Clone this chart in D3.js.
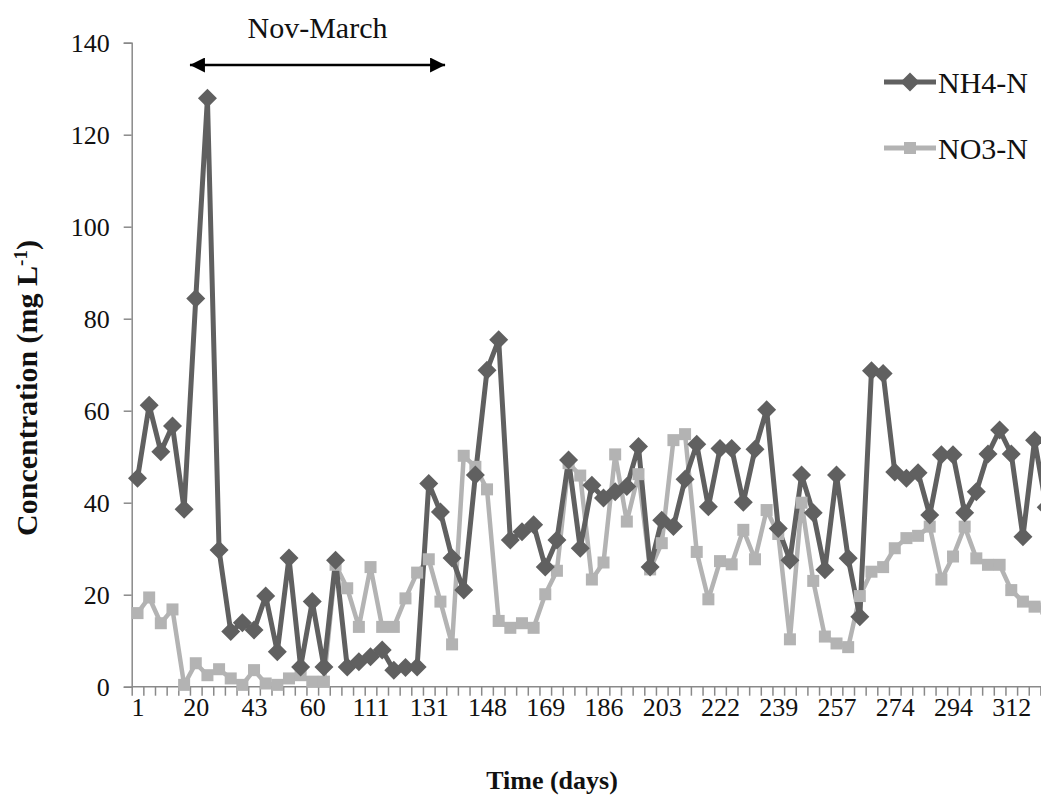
<!DOCTYPE html>
<html>
<head>
<meta charset="utf-8">
<script src="https://cdn.jsdelivr.net/npm/d3@7"></script>
<style>
  html, body { margin: 0; padding: 0; background: #fff; }
  svg { display: block; }
</style>
</head>
<body>
<svg id="chart" width="1041" height="795"></svg>
<script>
// Sampling days shown on the time axis (one label every five samples)
const dayLabels = [1, 20, 43, 60, 111, 131, 148, 169, 186, 203, 222, 239, 257, 274, 294, 312];
const labelEvery = 5;

// Ammonium nitrogen, mg/L, one value per sample
const nh4 = [45.3, 61.2, 51.1, 56.7, 38.6, 84.4, 127.9, 29.7, 12.0, 13.9,
             12.3, 19.7, 7.6, 28.0, 4.3, 18.5, 4.3, 27.5, 4.3, 5.4,
             6.5, 8.0, 3.6, 4.2, 4.3, 44.2, 38.0, 28.0, 21.0, 46.0,
             68.8, 75.4, 31.9, 33.7, 35.2, 26.0, 31.9, 49.3, 30.1, 43.8,
             41.0, 42.4, 43.5, 52.2, 26.0, 36.2, 34.8, 45.1, 52.7, 39.1,
             51.8, 51.8, 40.1, 51.6, 60.2, 34.4, 27.5, 46.0, 37.8, 25.4,
             46.0, 27.9, 15.2, 68.7, 68.1, 46.7, 45.3, 46.5, 37.3, 50.4,
             50.4, 37.8, 42.4, 50.6, 55.8, 50.6, 32.6, 53.6, 39.0];

// Nitrate nitrogen, mg/L
const no3 = [16.0, 19.4, 13.8, 16.8, 0.4, 5.1, 2.5, 3.8, 1.8, 0.4,
             3.6, 0.7, 0.4, 1.8, 2.5, 1.1, 1.1, 26.5, 21.4, 13.0,
             26.0, 13.0, 13.0, 19.2, 24.8, 27.7, 18.5, 9.2, 50.2, 47.8,
             42.9, 14.3, 12.8, 13.8, 12.8, 20.1, 25.2, 48.6, 45.9, 23.3,
             27.0, 50.5, 35.9, 46.2, 25.5, 31.2, 53.6, 54.9, 29.3, 19.0,
             27.3, 26.6, 34.1, 27.7, 38.4, 33.2, 10.3, 40.0, 23.0, 10.9,
             9.4, 8.6, 19.7, 25.0, 26.0, 30.1, 32.3, 32.8, 34.8, 23.3,
             28.3, 34.8, 27.9, 26.5, 26.5, 21.0, 18.5, 17.4, 17.0];

const yTicks = [0, 20, 40, 60, 80, 100, 120, 140];
const seriesNames = ["NH4-N", "NO3-N"];

// Winter period marked above the plot, in sample positions
const winterSpan = [5.0, 26.9];
const winterLabel = "Nov-March";

const svg = d3.select("#chart");
const font = '"Liberation Serif", "Times New Roman", serif';
const axisColor = "#8a8a8a";
const nh4Color = "#606060";
const no3Color = "#b3b3b3";

const nCats = nh4.length;
const step = 11.65;
const x0 = 131.7;
const yBottom = 686.7, yTop = 42.7;

// Sample boundaries (ticks) and centres (points)
const x = d3.scaleLinear().domain([0, nCats]).range([x0, x0 + nCats * step]);
const y = d3.scaleLinear().domain([0, 140]).range([yBottom, yTop]);
const cx = i => x(i + 0.5);

// Y axis
const yAxis = svg.append("g")
  .attr("transform", `translate(${x0},0)`)
  .call(d3.axisLeft(y).tickValues(yTicks).tickSize(8).tickPadding(14));
yAxis.select(".domain").attr("stroke", axisColor).attr("stroke-width", 1.5);
yAxis.selectAll(".tick line").attr("stroke", axisColor).attr("stroke-width", 1.5);
yAxis.selectAll(".tick text")
  .attr("font-family", font).attr("font-size", 26).attr("fill", "#111");

// X axis: a tick at every sample boundary
const xAxis = svg.append("g")
  .attr("transform", `translate(0,${yBottom})`)
  .call(d3.axisBottom(x).tickValues(d3.range(0, nCats + 1)).tickSize(9).tickFormat(""));
xAxis.select(".domain").attr("stroke", axisColor).attr("stroke-width", 1.5)
  .attr("d", `M${x0},0H${x(nCats)}`);
xAxis.selectAll(".tick line").attr("stroke", axisColor).attr("stroke-width", 1.5);

// X labels at every fifth sample centre
const labelPos = dayLabels.map((d, i) => i * labelEvery + 0.5);
const xLab = svg.append("g")
  .attr("transform", `translate(0,${yBottom})`)
  .call(d3.axisBottom(x).tickValues(labelPos).tickSize(0).tickPadding(11)
    .tickFormat((d, i) => dayLabels[i]));
xLab.select(".domain").remove();
xLab.selectAll(".tick text")
  .attr("font-family", font).attr("font-size", 26).attr("fill", "#111");

// Series lines and markers
const line = d3.line().x((d, i) => cx(i)).y(d => y(d));

svg.append("path").datum(no3)
  .attr("d", line).attr("fill", "none")
  .attr("stroke", no3Color).attr("stroke-width", 4.5).attr("stroke-linejoin", "round");
svg.append("path").datum(nh4)
  .attr("d", line).attr("fill", "none")
  .attr("stroke", nh4Color).attr("stroke-width", 5).attr("stroke-linejoin", "round");

const sq = 12;
svg.append("g").selectAll("rect").data(no3).join("rect")
  .attr("x", (d, i) => cx(i) - sq / 2).attr("y", d => y(d) - sq / 2)
  .attr("width", sq).attr("height", sq).attr("fill", no3Color);

const dia = 9.5;
const diamond = (px, py) => `M${px},${py - dia}L${px + dia},${py}L${px},${py + dia}L${px - dia},${py}Z`;
svg.append("g").selectAll("path").data(nh4).join("path")
  .attr("d", (d, i) => diamond(cx(i), y(d))).attr("fill", nh4Color);

// Legend
const legend = svg.append("g");
const legRows = [
  { name: seriesNames[0], color: nh4Color, y: 82, marker: "diamond" },
  { name: seriesNames[1], color: no3Color, y: 148, marker: "square" }
];
legRows.forEach(r => {
  legend.append("line").attr("x1", 884).attr("x2", 936).attr("y1", r.y).attr("y2", r.y)
    .attr("stroke", r.color).attr("stroke-width", 5);
  if (r.marker === "diamond") {
    legend.append("path").attr("d", diamond(910, r.y)).attr("fill", r.color);
  } else {
    legend.append("rect").attr("x", 910 - sq / 2).attr("y", r.y - sq / 2)
      .attr("width", sq).attr("height", sq).attr("fill", r.color);
  }
  legend.append("text").attr("x", 938).attr("y", r.y).attr("dy", "0.35em")
    .attr("font-family", font).attr("font-size", 30).attr("fill", "#111").text(r.name);
});

// Winter period arrow and label
const defs = svg.append("defs");
defs.append("marker").attr("id", "arrow-head")
  .attr("viewBox", "0 0 10 10").attr("refX", 10).attr("refY", 5)
  .attr("markerWidth", 8).attr("markerHeight", 6).attr("markerUnits", "strokeWidth")
  .attr("orient", "auto-start-reverse")
  .append("path").attr("d", "M0,0L10,5L0,10Z").attr("fill", "#000");
const ay = 65;
svg.append("line")
  .attr("x1", x(winterSpan[0])).attr("x2", x(winterSpan[1]))
  .attr("y1", ay).attr("y2", ay)
  .attr("stroke", "#000").attr("stroke-width", 2.5)
  .attr("marker-start", "url(#arrow-head)").attr("marker-end", "url(#arrow-head)");
svg.append("text")
  .attr("x", (x(winterSpan[0]) + x(winterSpan[1])) / 2).attr("y", 38)
  .attr("text-anchor", "middle")
  .attr("font-family", font).attr("font-size", 30).attr("fill", "#111").text(winterLabel);

// Axis titles
svg.append("text")
  .attr("x", 552).attr("y", 789).attr("text-anchor", "middle")
  .attr("font-family", font).attr("font-size", 26).attr("font-weight", "bold")
  .attr("fill", "#111").text("Time (days)");

const yt = svg.append("text")
  .attr("transform", "translate(37,388) rotate(-90)")
  .attr("text-anchor", "middle")
  .attr("font-family", font).attr("font-size", 30).attr("font-weight", "bold")
  .attr("fill", "#111");
yt.append("tspan").text("Concentration (mg L");
yt.append("tspan").attr("baseline-shift", "super").attr("font-size", 19).text("-1");
yt.append("tspan").text(")");
</script>
</body>
</html>
